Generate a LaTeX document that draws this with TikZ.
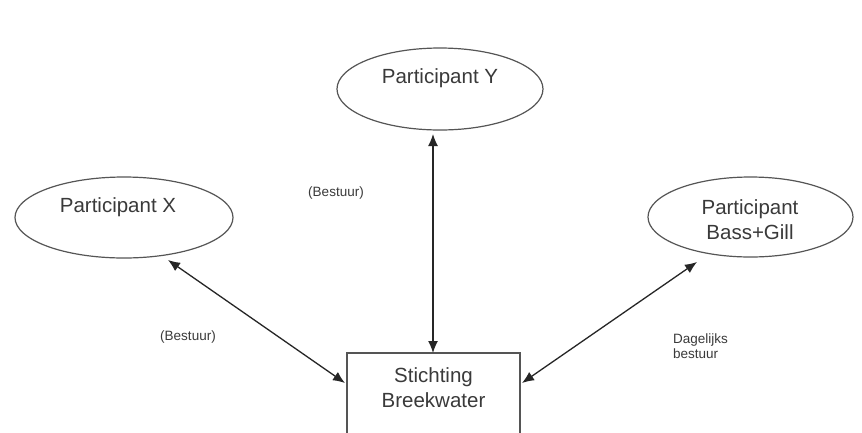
\documentclass[tikz,border=0pt]{standalone}
\usepackage{fontspec}
\setmainfont{Liberation Sans}
\usetikzlibrary{shapes.geometric,arrows.meta}
\definecolor{ink}{HTML}{3A3A3A}
\definecolor{edge}{HTML}{555555}
\begin{document}
\begin{tikzpicture}[x=1pt,y=-1pt,
  party/.style={ellipse,draw=edge,line width=1.2pt,inner sep=0pt},
  bigtext/.style={text=ink,font=\fontsize{20.5}{25}\selectfont,align=center,inner sep=0pt},
  smalltext/.style={text=ink,font=\fontsize{13.5}{15.5}\selectfont,inner sep=0pt},
  link/.style={line width=1.3pt,draw=black!85,{Latex[length=12pt,width=10pt]}-{Latex[length=12pt,width=10pt]}}]
  \useasboundingbox (0,0) rectangle (862,432);
  \clip (0,0) rectangle (862,432);
  \fill[white] (0,0) rectangle (862,432);

  % participants
  \node[party,minimum width=206pt,minimum height=82pt] (py) at (440,89) {};
  \node[party,minimum width=218pt,minimum height=81pt] (px) at (124,217.5) {};
  \node[party,minimum width=205pt,minimum height=80pt] (pb) at (750.5,217) {};
  \node[bigtext] (tpy) at (440,78) {Participant Y};
  \node[bigtext] (tpx) at (118,207) {Participant X};
  \node[bigtext] (tpb) at (750,219.5) {Participant\\Bass+Gill};

  % foundation box, running off the lower edge
  \node[draw=edge,line width=1.2pt,minimum width=173pt,minimum height=110pt,inner sep=0pt] (st) at (433.5,408) {};
  \node[bigtext] (tst) at (433.5,388) {Stichting\\Breekwater};

  % anchor points of the connectors
  \coordinate (yb) at (433,134);
  \coordinate (st-top) at (433,353);
  \coordinate (xb) at (168,260);
  \coordinate (st-left) at (345,383);
  \coordinate (bb) at (697,262);
  \coordinate (st-right) at (522,383);

  \draw[link] (yb) -- (st-top);
  \draw[link] (xb) -- (st-left);
  \draw[link] (bb) -- (st-right);

  % relation labels
  \node[smalltext] (l1) at (336,193) {(Bestuur)};
  \node[smalltext] (l2) at (188,337) {(Bestuur)};
  \node[smalltext,align=left,anchor=west] (l3) at (673,346) {Dagelijks\\bestuur};
\end{tikzpicture}
\end{document}
